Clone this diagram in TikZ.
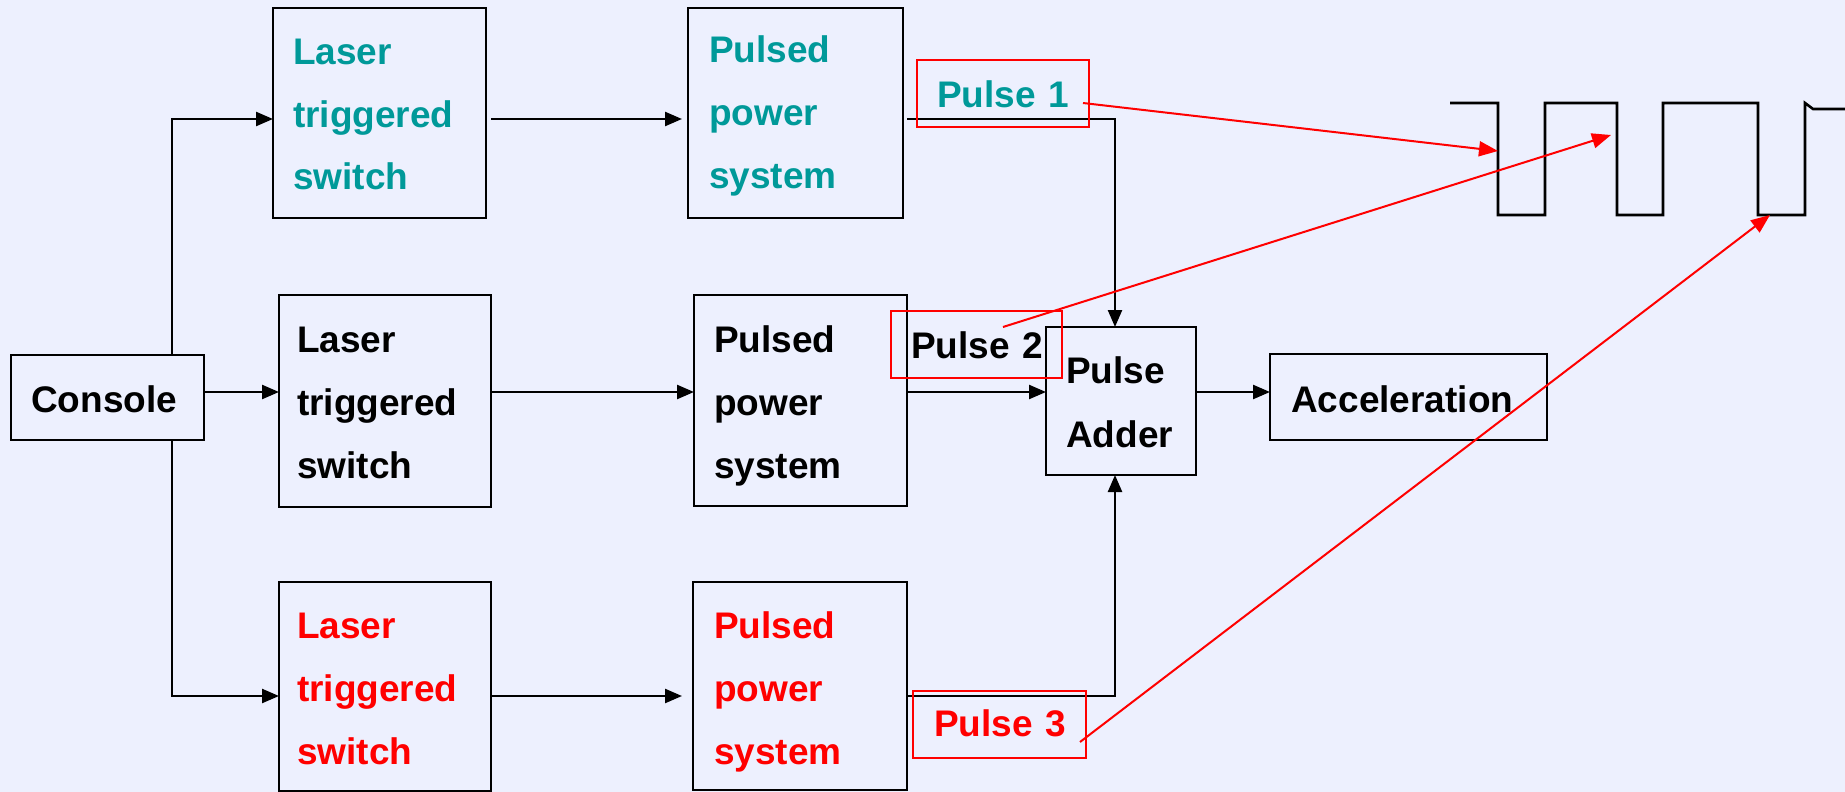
\documentclass[tikz,border=0pt]{standalone}
\usepackage{fontspec}
\setmainfont{Liberation Sans}
\usetikzlibrary{arrows.meta,calc}
\definecolor{bg}{RGB}{237,240,254}
\definecolor{tealtxt}{RGB}{0,153,153}
\definecolor{redtxt}{RGB}{255,0,0}
\begin{document}
\begin{tikzpicture}[x=1pt,y=-1pt,
  box/.style={draw=black,line width=2.4pt,inner sep=0pt,outer sep=0pt},
  rbox/.style={draw=redtxt,line width=1.6pt,inner sep=0pt,outer sep=0pt},
  txt/.style={anchor=base west,inner sep=0pt,text width=260pt,align=left,font=\fontsize{37}{63}\selectfont\bfseries},
  conn/.style={line width=2.4pt,-{Triangle[length=17pt,width=14pt]}},
  rarr/.style={draw=redtxt,line width=2pt,-{Triangle[length=19pt,width=15pt]}},
  wave/.style={line width=2.6pt,line join=miter}]
\fill[bg] (0,0) rectangle (1845,792);
\useasboundingbox (0,0) rectangle (1845,792);
% helper coordinates
\coordinate (r1) at (0,119);
\coordinate (r2) at (0,392);
\coordinate (r3) at (0,696);
\coordinate (vx) at (172,0);
\coordinate (ax) at (1115,0);
% boxes
\node[box,minimum width=193pt,minimum height=85pt] (con) at (107.5,397.5) {};
\node[box,minimum width=213pt,minimum height=210pt] (lts1) at (379.5,113) {};
\node[box,minimum width=212pt,minimum height=212pt] (lts2) at (385,401) {};
\node[box,minimum width=212pt,minimum height=209pt] (lts3) at (385,686.5) {};
\node[box,minimum width=215pt,minimum height=210pt] (pps1) at (795.5,113) {};
\node[box,minimum width=213pt,minimum height=211pt] (pps2) at (800.5,400.5) {};
\node[box,minimum width=214pt,minimum height=208pt] (pps3) at (800,686) {};
\node[box,minimum width=150pt,minimum height=148pt] (add) at (1121,401) {};
\node[box,minimum width=277pt,minimum height=86pt] (acc) at (1408.5,397) {};
% texts
\node[txt] (tcon) at (31,412) {Console};
\node[txt,text=tealtxt] (tlts1) at (293,64) {Laser\\triggered\\switch};
\node[txt] (tlts2) at (297,352) {Laser\\triggered\\switch};
\node[txt,text=redtxt] (tlts3) at (297,638) {Laser\\triggered\\switch};
\node[txt,text=tealtxt] (tpps1) at (709,63) {Pulsed\\power\\system};
\node[txt] (tpps2) at (714,352) {Pulsed\\power\\system};
\node[txt,text=redtxt] (tpps3) at (714,638) {Pulsed\\power\\system};
\node[txt,font=\fontsize{37}{64}\selectfont\bfseries] (tadd) at (1066,383) {Pulse\\Adder};
\node[txt] (tacc) at (1291,412) {Acceleration};
% connectors
\draw[conn] (vx |- con.north) |- (lts1.west |- r1);
\draw[conn] (con.east |- r2) -- (lts2.west |- r2);
\draw[conn] (vx |- con.south) |- (lts3.west |- r3);
\draw[conn,shorten <=5pt,shorten >=6pt] (lts1.east |- r1) -- (pps1.west |- r1);
\draw[conn] (lts2.east |- r2) -- (pps2.west |- r2);
\draw[conn,shorten >=11pt] (lts3.east |- r3) -- (pps3.west |- r3);
\draw[conn,shorten <=4pt] (pps1.east |- r1) -| (ax |- add.north);
\draw[conn] (pps2.east |- r2) -- (add.west |- r2);
\draw[conn] (pps3.east |- r3) -| (ax |- add.south);
\draw[conn] (add.east |- r2) -- (acc.west |- r2);
% waveform
\draw[wave] (1450,103) -- (1498,103) -- (1498,215) -- (1545,215) -- (1545,103) -- (1617,103) -- (1617,215) -- (1663,215) -- (1663,103) -- (1758,103) -- (1758,215) -- (1805,215) -- (1805,103) -- (1813,109) -- (1845,109);
% pulse labels
\node[rbox,minimum width=172pt,minimum height=67pt] (p1box) at (1003,93.5) {};
\node[rbox,minimum width=171pt,minimum height=67pt] (p2box) at (976.5,344.5) {};
\node[rbox,minimum width=173pt,minimum height=67pt] (p3box) at (999.5,724.5) {};
\node[txt,text=tealtxt] (p1) at (937,107) {Pulse 1};
\node[txt] (p2) at (911,358) {Pulse 2};
\node[txt,text=redtxt] (p3) at (934,736) {Pulse 3};
\coordinate (w1) at (1498,151);
\coordinate (w2) at (1611,135);
\coordinate (w3) at (1770,215);
\draw[rarr] ($(p1box.east)+(-6,9.5)$) -- (w1);
\draw[rarr] ($(p2box.center)+(26.5,-17.5)$) -- (w2);
\draw[rarr] ($(p3box.east)+(-6,17.5)$) -- (w3);
\end{tikzpicture}
\end{document}
